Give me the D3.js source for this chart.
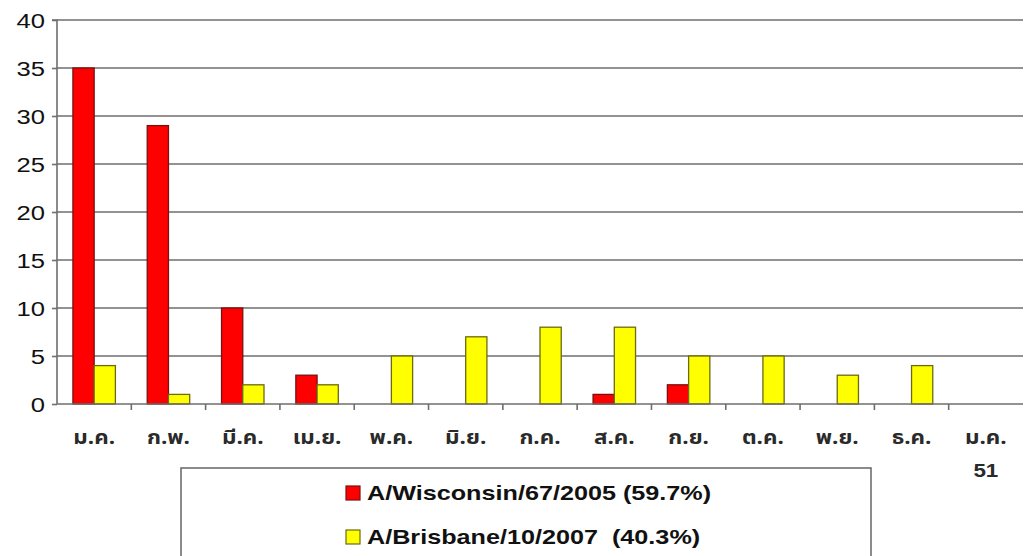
<!DOCTYPE html>
<html>
<head>
<meta charset="utf-8">
<script src="https://cdn.jsdelivr.net/npm/d3@7"></script>
<style>
  html, body { margin: 0; padding: 0; background: #fff; overflow: hidden; }
  svg { display: block; }
</style>
</head>
<body>
<svg id="chart" width="1025" height="556"></svg>
<script>
const categories = ["ม.ค.", "ก.พ.", "มี.ค.", "เม.ย.", "พ.ค.", "มิ.ย.", "ก.ค.", "ส.ค.", "ก.ย.", "ต.ค.", "พ.ย.", "ธ.ค.", "ม.ค.\n51"];
const wisconsin = [35, 29, 10, 3, 0, 0, 0, 1, 2, 0, 0, 0, 0];
const brisbane = [4, 1, 2, 2, 5, 7, 8, 8, 5, 5, 3, 4, 0];
const seriesNames = ["A/Wisconsin/67/2005 (59.7%)", "A/Brisbane/10/2007  (40.3%)"];
const yTicks = [0, 5, 10, 15, 20, 25, 30, 35, 40];

const svg = d3.select("#chart");
const pLeft = 57, pRight = 1023, pTop = 20, pBottom = 404;
const stretch = 1.28; // the original is horizontally stretched

const x = d3.scaleBand().domain(categories).range([pLeft, pRight]).paddingInner(0).paddingOuter(0);
const bw = x.bandwidth() / 3.5;
const xs = d3.scaleBand().domain([0, 1]).range([0, 2 * bw]);
const y = d3.scaleLinear().domain([0, 40]).range([pBottom, pTop]);

// gridlines
svg.append("g").selectAll("line").data(yTicks.filter(d => d > 0)).join("line")
  .attr("x1", pLeft).attr("x2", pRight)
  .attr("y1", d => y(d)).attr("y2", d => y(d))
  .attr("stroke", "#6e6e6e").attr("stroke-width", 1.6);

// bars
const series = [
  { vals: wisconsin, fill: "#ff0000", stroke: "#7a1010" },
  { vals: brisbane, fill: "#ffff00", stroke: "#6b6b10" }
];
series.forEach((s, si) => {
  svg.append("g").selectAll("rect").data(categories.map((c, i) => ({ c, v: s.vals[i] })).filter(d => d.v > 0)).join("rect")
    .attr("x", d => x(d.c) + (x.bandwidth() - 2 * bw) / 2 + xs(si))
    .attr("y", d => y(d.v))
    .attr("width", bw)
    .attr("height", d => y(0) - y(d.v))
    .attr("fill", s.fill)
    .attr("stroke", s.stroke)
    .attr("stroke-width", 1.3);
});

// y axis
const yAxis = d3.axisLeft(y).tickValues(yTicks).tickSize(5).tickPadding(0);
const gy = svg.append("g").attr("transform", `translate(${pLeft},0)`).call(yAxis);
gy.select(".domain").attr("stroke", "#6e6e6e").attr("stroke-width", 1.6).attr("d", `M-5,${pTop}H0V${pBottom}`);
gy.selectAll(".tick line").attr("stroke", "#6e6e6e").attr("stroke-width", 1.6);
gy.selectAll(".tick text")
  .attr("x", null).attr("dy", null)
  .attr("transform", `translate(-12,7) scale(${stretch},1)`)
  .attr("font-family", "Arial, 'Liberation Sans', sans-serif")
  .attr("font-size", 20).attr("fill", "#111");

// x axis
const xAxis = d3.axisBottom(x).tickSize(0).tickFormat("");
const gx = svg.append("g").attr("transform", `translate(0,${pBottom})`).call(xAxis);
gx.select(".domain").attr("stroke", "#6e6e6e").attr("stroke-width", 1.6).attr("d", `M${pLeft},0H${pRight}`);
// boundary ticks
svg.append("g").selectAll("line").data(categories.slice(1)).join("line")
  .attr("x1", d => x(d)).attr("x2", d => x(d))
  .attr("y1", pBottom).attr("y2", pBottom + 6)
  .attr("stroke", "#6e6e6e").attr("stroke-width", 1.6);

// x labels
const xl = svg.append("g").selectAll("g").data(categories).join("g")
  .attr("transform", d => `translate(${x(d) + x.bandwidth() / 2},0) scale(1.18,1)`);
xl.each(function(d) {
  const parts = d.split("\n");
  const g = d3.select(this);
  g.append("text").attr("x", 0).attr("y", 444)
    .attr("text-anchor", "middle")
    .attr("font-family", "'Noto Sans Thai', 'DejaVu Sans', 'Noto Sans', sans-serif")
    .attr("font-size", 19).attr("font-weight", "bold").attr("fill", "#2a2a2a")
    .text(parts[0]);
  if (parts[1]) {
    g.append("text").attr("x", 0).attr("y", 477)
      .attr("text-anchor", "middle")
      .attr("font-family", "Arial, 'Liberation Sans', sans-serif")
      .attr("font-size", 19).attr("font-weight", "bold").attr("fill", "#2a2a2a")
      .text(parts[1]);
  }
});

// legend
const lg = svg.append("g");
lg.append("rect").attr("x", 181).attr("y", 468).attr("width", 690).attr("height", 100)
  .attr("fill", "#fff").attr("stroke", "#6e6e6e").attr("stroke-width", 1.6);
series.forEach((s, i) => {
  const cy = 493 + i * 44;
  lg.append("rect").attr("x", 346).attr("y", cy - 7).attr("width", 14).attr("height", 14)
    .attr("fill", s.fill).attr("stroke", s.stroke).attr("stroke-width", 1.2);
  lg.append("text")
    .attr("transform", `translate(367,${cy + 7}) scale(1.26,1)`)
    .attr("font-family", "Arial, 'Liberation Sans', sans-serif")
    .attr("font-size", 20).attr("font-weight", "bold").attr("fill", "#111")
    .attr("xml:space", "preserve").style("white-space", "pre")
    .text(seriesNames[i]);
});
</script>
</body>
</html>
